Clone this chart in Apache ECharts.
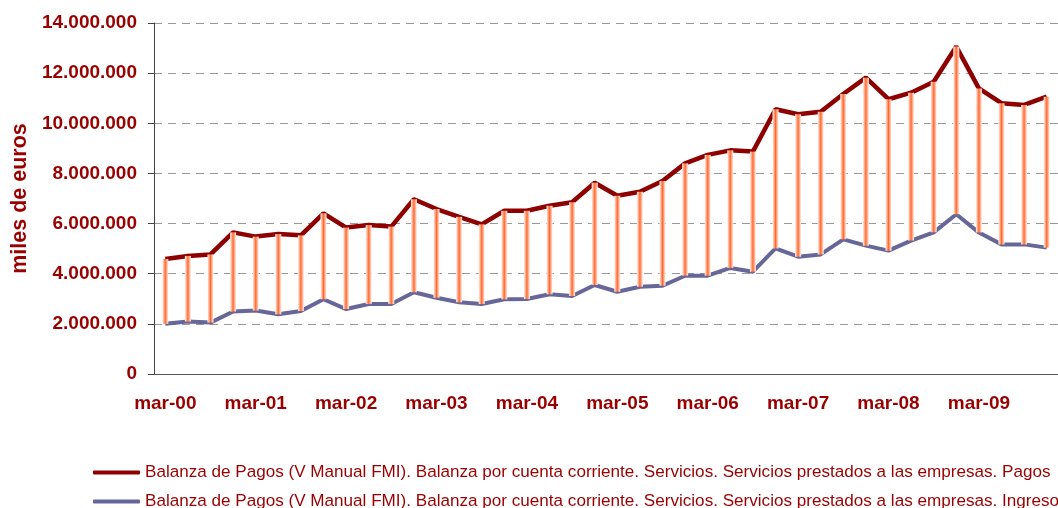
<!DOCTYPE html>
<html>
<head>
<meta charset="utf-8">
<script src="https://cdn.jsdelivr.net/npm/echarts@6/dist/echarts.min.js"></script>
<style>
  body { margin: 0; background: #fff; }
</style>
</head>
<body>
<div id="MyChart" style="width: 1058px;height:508px;"></div>
<script>
// trimestres mar-00 .. dic-09
let years = ['00', '01', '02', '03', '04', '05', '06', '07', '08', '09']
let months = ['mar', 'jun', 'sep', 'dic']
let category = []
for (let y = 0; y < years.length; y++) {
  for (let m = 0; m < months.length; m++) {
    category.push(months[m] + '-' + years[y])
  }
}

// miles de euros
let pagos = [
  4590000, 4710000, 4770000, 5650000, 5480000, 5580000, 5530000, 6410000,
  5840000, 5940000, 5880000, 6970000, 6580000, 6270000, 5970000, 6510000,
  6510000, 6710000, 6850000, 7630000, 7110000, 7270000, 7700000, 8400000,
  8740000, 8920000, 8870000, 10560000, 10360000, 10460000, 11170000, 11820000,
  10960000, 11220000, 11660000, 13060000, 11390000, 10800000, 10730000, 11060000
]
let ingresos = [
  2000000, 2090000, 2050000, 2490000, 2530000, 2380000, 2510000, 2980000,
  2590000, 2790000, 2790000, 3260000, 3040000, 2860000, 2790000, 2980000,
  2990000, 3180000, 3110000, 3550000, 3280000, 3480000, 3520000, 3920000,
  3920000, 4230000, 4080000, 5010000, 4680000, 4770000, 5370000, 5120000,
  4920000, 5320000, 5650000, 6370000, 5640000, 5170000, 5170000, 5040000
]

let namePagos = 'Balanza de Pagos (V Manual FMI). Balanza por cuenta corriente. Servicios. Servicios prestados a las empresas. Pagos'
let nameIngresos = 'Balanza de Pagos (V Manual FMI). Balanza por cuenta corriente. Servicios. Servicios prestados a las empresas. Ingresos'

// barras entre las dos lineas
let diff = []
for (let i = 0; i < pagos.length; i++) {
  diff.push(pagos[i] - ingresos[i])
}

function fmt (v) {
  return String(v).replace(/\B(?=(\d{3})+(?!\d))/g, '.')
}

let myChart = echarts.init(document.getElementById('MyChart'))
let rojo = '#990000'
let legendText = {
  color: rojo,
  fontSize: 17.1,
  fontFamily: 'Liberation Sans, Arial, sans-serif'
}
let option = {
  animation: false,
  textStyle: { fontFamily: 'Liberation Sans, Arial, sans-serif' },
  grid: {
    left: 154,
    top: 23,
    width: 914,
    bottom: 134,
    containLabel: false
  },
  legend: [
    {
      left: 88,
      top: 459,
      itemWidth: 47,
      itemHeight: 4,
      icon: 'roundRect',
      data: [namePagos],
      textStyle: legendText
    },
    {
      left: 88,
      top: 488,
      itemWidth: 47,
      itemHeight: 4,
      icon: 'roundRect',
      data: [nameIngresos],
      textStyle: legendText
    }
  ],
  xAxis: {
    type: 'category',
    data: category,
    boundaryGap: true,
    axisLine: { lineStyle: { color: '#555', width: 1 } },
    axisTick: { show: false },
    axisLabel: {
      interval: 3,
      margin: 20,
      color: rojo,
      fontWeight: 'bold',
      fontSize: 19
    }
  },
  yAxis: {
    type: 'value',
    min: 0,
    max: 14000000,
    interval: 2000000,
    name: 'miles de euros',
    nameLocation: 'middle',
    nameGap: 123,
    nameTextStyle: { color: rojo, fontWeight: 'bold', fontSize: 21.5 },
    axisLine: { show: true, lineStyle: { color: '#444' } },
    axisTick: { show: true, length: 6, lineStyle: { color: '#444' } },
    axisLabel: {
      margin: 17,
      color: rojo,
      fontWeight: 'bold',
      fontSize: 19,
      formatter: fmt
    },
    splitLine: {
      lineStyle: { color: '#999', type: [8, 6] }
    }
  },
  series: [
    {
      name: namePagos,
      type: 'line',
      data: pagos,
      symbol: 'none',
      z: 2,
      lineStyle: { color: '#8e0000', width: 4.5 },
      itemStyle: { color: '#8e0000' }
    },
    {
      name: nameIngresos,
      type: 'line',
      data: ingresos,
      symbol: 'none',
      z: 2,
      lineStyle: { color: '#666699', width: 4 },
      itemStyle: { color: '#666699' }
    },
    {
      name: 'base',
      type: 'bar',
      stack: 'hl',
      data: ingresos,
      barWidth: 6,
      z: 3,
      itemStyle: { color: 'rgba(0,0,0,0)' }
    },
    {
      name: 'rango',
      type: 'bar',
      stack: 'hl',
      data: diff,
      barWidth: 6,
      z: 3,
      itemStyle: {
        color: new echarts.graphic.LinearGradient(0, 0, 1, 0, [
          { offset: 0, color: '#fff4f0' },
          { offset: 0.5, color: '#ff6a30' },
          { offset: 1, color: '#fff4f0' }
        ])
      }
    }
  ]
}
myChart.setOption(option)
</script>
</body>
</html>
